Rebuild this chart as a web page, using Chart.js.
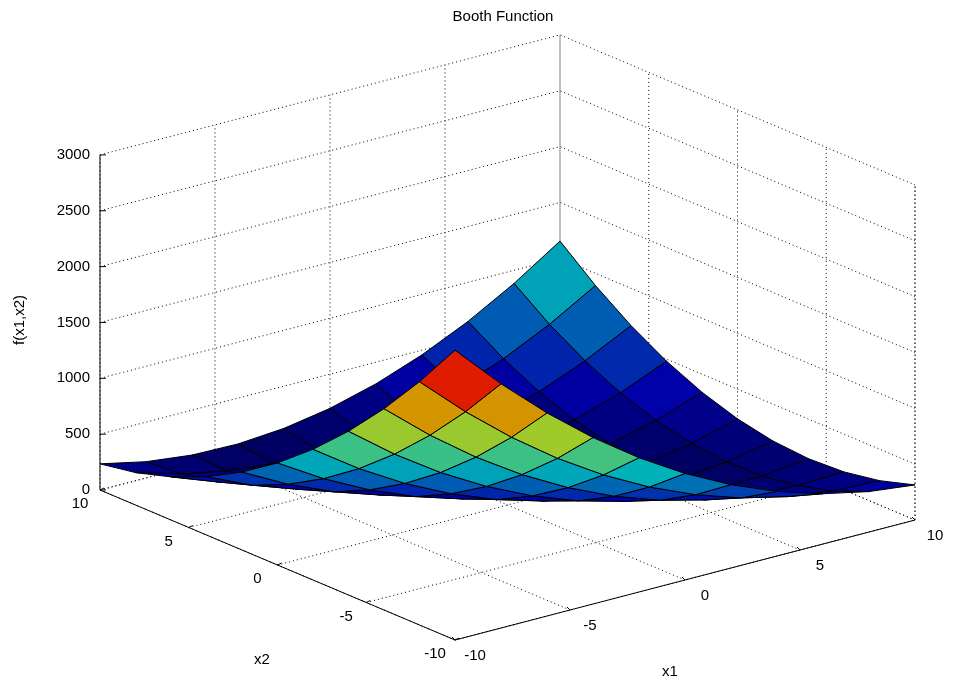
<!DOCTYPE html>
<html>
<head>
<meta charset="utf-8">
<script src="https://cdn.jsdelivr.net/npm/chart.js@4/dist/chart.umd.min.js"></script>
<style>
  html, body { margin: 0; padding: 0; background: #fff; }
  #wrap { width: 960px; height: 690px; }
</style>
</head>
<body>
<div id="wrap"><canvas id="booth-chart"></canvas></div>
<script>
// grid axes
const x1Values = [-10, -8, -6, -4, -2, 0, 2, 4, 6, 8, 10];
const x2Values = [-10, -8, -6, -4, -2, 0, 2, 4, 6, 8, 10];
// f(x1,x2), one row per x2 value, one column per x1 value
const fValues = [
    [2594, 2186, 1818, 1490, 1202, 954, 746, 578, 450, 362, 314],
    [2178, 1802, 1466, 1170, 914, 698, 522, 386, 290, 234, 218],
    [1802, 1458, 1154, 890, 666, 482, 338, 234, 170, 146, 162],
    [1466, 1154, 882, 650, 458, 306, 194, 122, 90, 98, 146],
    [1170, 890, 650, 450, 290, 170, 90, 50, 50, 90, 170],
    [914, 666, 458, 290, 162, 74, 26, 18, 50, 122, 234],
    [698, 482, 306, 170, 74, 18, 2, 26, 90, 194, 338],
    [522, 338, 194, 90, 26, 2, 18, 74, 170, 306, 482],
    [386, 234, 122, 50, 18, 26, 74, 162, 290, 458, 666],
    [290, 170, 90, 50, 50, 90, 170, 290, 450, 650, 890],
    [234, 146, 98, 90, 122, 194, 306, 458, 650, 882, 1154]
];
// tick labels
const x1Ticks = [-10, -5, 0, 5, 10];
const x2Ticks = [-10, -5, 0, 5, 10];
const zTicks = [0, 500, 1000, 1500, 2000, 2500, 3000];

// view: front corner (-10,-10,0) and unit vectors in screen space
const view = { ox: 455, oy: 640, x1: [23, -6], x2: [-17.75, -7.5], z: 0.1117 };
function project(x1, x2, z) {
    const a = x1 + 10, b = x2 + 10;
    return [view.ox + a * view.x1[0] + b * view.x2[0],
            view.oy + a * view.x1[1] + b * view.x2[1] - z * view.z];
}

// jet colormap, darkened a bit to mimic the dense black mesh
function jet(t) {
    t = Math.max(0, Math.min(1, t));
    const r = Math.max(0, Math.min(1, 1.5 - Math.abs(4 * t - 3)));
    const g = Math.max(0, Math.min(1, 1.5 - Math.abs(4 * t - 2)));
    const b = Math.max(0, Math.min(1, 1.5 - Math.abs(4 * t - 1)));
    const k = 0.62 + 0.3 * t;
    return `rgb(${Math.round(r * 255 * k)},${Math.round(g * 255 * k)},${Math.round(b * 255 * k)})`;
}

const surfacePoints = [];
x2Values.forEach((x2, j) => x1Values.forEach((x1, i) => {
    const p = project(x1, x2, fValues[j][i]);
    surfacePoints.push({ x: p[0], y: p[1] });
}));

const surfacePlugin = {
    id: 'surface',
    beforeDatasetsDraw(chart) {
        const ctx = chart.ctx;
        const sx = chart.scales.x, sy = chart.scales.y;
        const px = (x1, x2, z) => {
            const p = project(x1, x2, z);
            return [sx.getPixelForValue(p[0]), sy.getPixelForValue(p[1])];
        };
        const line = (pts, dotted) => {
            ctx.save();
            ctx.strokeStyle = '#000';
            ctx.lineWidth = 1;
            ctx.setLineDash(dotted ? [1, 3] : []);
            ctx.beginPath();
            pts.forEach((p, k) => k ? ctx.lineTo(p[0], p[1]) : ctx.moveTo(p[0], p[1]));
            ctx.stroke();
            ctx.restore();
        };
        const zMax = zTicks[zTicks.length - 1];

        // grid on walls and floor
        x1Ticks.forEach(v => line([px(v, -10, 0), px(v, 10, 0), px(v, 10, zMax)], true));
        x2Ticks.forEach(v => line([px(-10, v, 0), px(10, v, 0), px(10, v, zMax)], true));
        zTicks.forEach(v => line([px(-10, 10, v), px(10, 10, v), px(10, -10, v)], true));
        line([px(10, -10, 0), px(10, -10, zMax)], true);

        // axes lines
        line([px(-10, 10, 0), px(-10, 10, zMax)], false);
        line([px(-10, 10, 0), px(-10, -10, 0), px(10, -10, 0)], false);

        // surface quads, far to near
        const quads = [];
        const fMax = Math.max(...fValues.flat());
        for (let j = 0; j < x2Values.length - 1; j++) {
            for (let i = 0; i < x1Values.length - 1; i++) {
                const c = [[i, j], [i + 1, j], [i + 1, j + 1], [i, j + 1]];
                const avg = c.reduce((s, q) => s + fValues[q[1]][q[0]], 0) / 4;
                quads.push({
                    depth: x1Values[i] + x1Values[i + 1] + x2Values[j] + x2Values[j + 1],
                    pts: c.map(q => px(x1Values[q[0]], x2Values[q[1]], fValues[q[1]][q[0]])),
                    color: jet(avg / fMax)
                });
            }
        }
        quads.sort((a, b) => b.depth - a.depth);
        quads.forEach(q => {
            ctx.beginPath();
            q.pts.forEach((p, k) => k ? ctx.lineTo(p[0], p[1]) : ctx.moveTo(p[0], p[1]));
            ctx.closePath();
            ctx.fillStyle = q.color;
            ctx.fill();
            ctx.strokeStyle = '#000';
            ctx.lineWidth = 1;
            ctx.stroke();
        });

        // ticks and labels
        ctx.save();
        ctx.fillStyle = '#000';
        ctx.font = '15px Arial, "Liberation Sans", sans-serif';
        ctx.textAlign = 'right';
        ctx.textBaseline = 'middle';
        zTicks.forEach(v => {
            const p = px(-10, 10, v);
            line([p, [p[0] + 6, p[1]]], false);
            ctx.fillText(String(v), p[0] - 10, p[1]);
        });
        ctx.textAlign = 'center';
        x2Ticks.forEach(v => {
            const p = px(-10, v, 0);
            line([p, [p[0] + 4, p[1] - 2]], false);
            ctx.fillText(String(v), p[0] - 20, p[1] + 14);
        });
        x1Ticks.forEach(v => {
            const p = px(v, -10, 0);
            line([p, [p[0] - 3, p[1] - 3]], false);
            ctx.fillText(String(v), p[0] + 20, p[1] + 16);
        });
        ctx.fillText('x2', 262, 660);
        ctx.fillText('x1', 670, 672);
        ctx.fillText('Booth Function', 503, 17);
        ctx.translate(20, 320);
        ctx.rotate(-Math.PI / 2);
        ctx.fillText('f(x1,x2)', 0, 0);
        ctx.restore();
    }
};

new Chart(document.getElementById('booth-chart'), {
    type: 'scatter',
    data: {
        datasets: [{
            data: surfacePoints,
            pointRadius: 0,
            showLine: false
        }]
    },
    options: {
        responsive: true,
        maintainAspectRatio: false,
        animation: { duration: 0 },
        layout: { padding: 0 },
        scales: {
            x: { display: false, min: 0, max: 960 },
            y: { display: false, min: 0, max: 690, reverse: true }
        },
        plugins: {
            legend: { display: false },
            tooltip: { enabled: false }
        }
    },
    plugins: [surfacePlugin]
});
</script>
</body>
</html>
